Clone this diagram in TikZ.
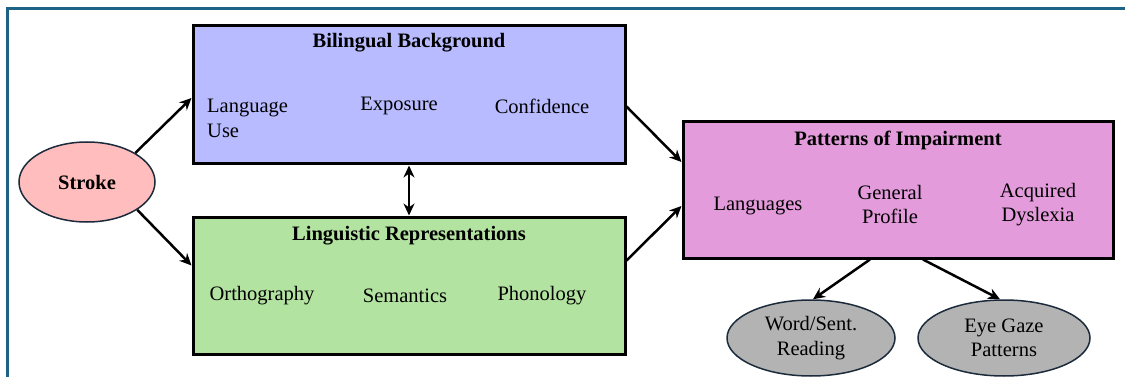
\documentclass[tikz,border=0pt]{standalone}
\usepackage{fontspec}
\setmainfont{Liberation Serif}
\newfontfamily\diagserif{Liberation Serif}
\usetikzlibrary{arrows.meta,shapes.geometric}
\definecolor{framec}{HTML}{1E6385}
\definecolor{bluefill}{HTML}{B8BBFF}
\definecolor{greenfill}{HTML}{B3E3A0}
\definecolor{pinkfill}{HTML}{E39BDB}
\definecolor{strokefill}{HTML}{FFBDBD}
\definecolor{grayfill}{HTML}{B3B3B3}
\definecolor{ellline}{HTML}{1B2B3B}
\newcommand\diagsize{\diagserif\fontsize{20.5}{24.6}\selectfont}
\tikzset{
  panel/.style={draw=black, line width=3pt, rectangle, inner sep=0pt},
  blob/.style={draw=ellline, line width=1.5pt, ellipse, inner sep=0pt, align=center, font=\diagsize},
  ttl/.style={font=\diagsize\bfseries, inner sep=0pt},
  itm/.style={inner sep=0pt, align=center, font=\diagsize},
  arr/.style={line width=2.5pt, -{Stealth[length=12pt,width=11pt]}},
  darr/.style={line width=2.5pt, {Stealth[length=12pt,width=11pt]}-{Stealth[length=12pt,width=11pt]}},
}
\begin{document}
\begin{tikzpicture}[x=1pt,y=-1pt]
\useasboundingbox (0,0) rectangle (1125,377);
% frame edges
\draw[framec, line width=3pt] (7,377) -- (7,9) -- (1125,9);

% main panels
\node[panel, fill=bluefill, minimum width=432pt, minimum height=138pt] (bb) at (409,95) {};
\node[panel, fill=greenfill, minimum width=432pt, minimum height=137pt] (lr) at (409,285.5) {};
\node[panel, fill=pinkfill, minimum width=430pt, minimum height=136pt] (pi) at (898,190) {};

% panel contents
\node[ttl] (bbt) at (409,43) {Bilingual Background};
\node[itm, align=left, anchor=west] (bb1) at (207,118.5) {Language\\Use};
\node[itm] (bb2) at (399,106) {Exposure};
\node[itm] (bb3) at (542,106) {Confidence};

\node[ttl] (lrt) at (409,236) {Linguistic Representations};
\node[itm] (lr1) at (262,296) {Orthography};
\node[itm] (lr2) at (405,296) {Semantics};
\node[itm] (lr3) at (542,296) {Phonology};

\node[ttl] (pit) at (898,140) {Patterns of Impairment};
\node[itm] (pi1) at (758,206) {Languages};
\node[itm] (pi2) at (890,204.5) {General\\Profile};
\node[itm] (pi3) at (1038,204.5) {Acquired\\Dyslexia};

% ellipses
\node[blob, fill=strokefill, minimum width=136pt, minimum height=80pt] (st) at (87,182) {\bfseries Stroke};
\node[blob, fill=grayfill, minimum width=168pt, minimum height=76pt] (wr) at (811,338) {Word/Sent.\\Reading};
\node[blob, fill=grayfill, minimum width=172pt, minimum height=76pt] (eg) at (1004,338) {Eye Gaze\\Patterns};

% connectors
\draw[arr] (st.31) -- ([yshift=-3pt]bb.west);
\draw[arr] (st.-29) -- ([yshift=20pt]lr.west);
\draw[darr] (bb.south) -- (lr.north);
\draw[arr] ([yshift=59pt]bb.south east) -- ([yshift=28pt]pi.west);
\draw[arr] ([yshift=-45pt]lr.north east) -- ([yshift=-16pt]pi.west);
\draw[arr] ([xshift=-28pt]pi.south) -- ([xshift=2pt]wr.north);
\draw[arr] ([xshift=25pt]pi.south) -- ([xshift=-4pt]eg.north);
\end{tikzpicture}
\end{document}
